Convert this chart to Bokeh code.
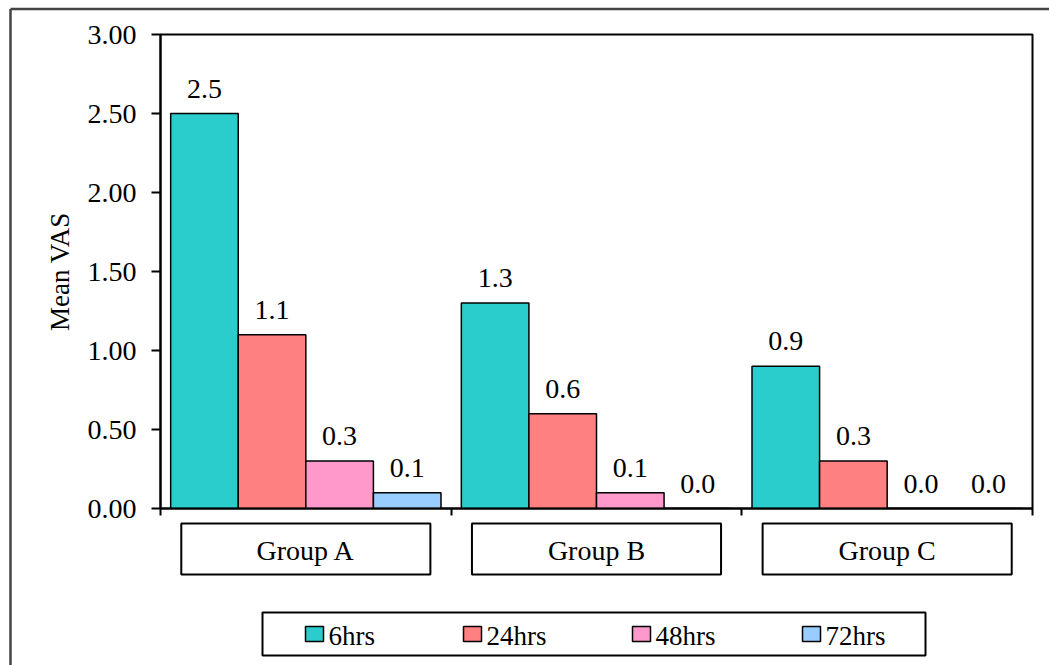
from bokeh.plotting import figure
from bokeh.models import Range1d, LinearAxis, FixedTicker, NumeralTickFormatter
from bokeh.core.properties import value
from bokeh.embed import file_html
from bokeh.resources import INLINE

# ---- data -------------------------------------------------------------
groups = ["Group A", "Group B", "Group C"]
series = ["6hrs", "24hrs", "48hrs", "72hrs"]
colors = ["#2ACCCC", "#FF8080", "#FF99CC", "#99CCFF"]
vas_6hrs = [2.5, 1.3, 0.9]
vas_24hrs = [1.1, 0.6, 0.3]
vas_48hrs = [0.3, 0.1, 0.0]
vas_72hrs = [0.1, 0.0, 0.0]
y_ticks = [0.0, 0.5, 1.0, 1.5, 2.0, 2.5, 3.0]

series_values = [vas_6hrs, vas_24hrs, vas_48hrs, vas_72hrs]

# ---- layout constants (pixels) ---------------------------------------
W, H = 1049, 665
FRAME_L, FRAME_R, FRAME_T, FRAME_B = 160, 1032, 34, 508
FONT_NAME = "Liberation Serif"
FONT = value(FONT_NAME)
FS = "28px"
BAR_W = 0.2325                      # width of one bar, in group units
LEGEND_SWATCH_X = [305, 463, 632, 802]  # left edge of each legend key

p = figure(width=W, height=H, output_backend="svg", toolbar_location=None,
           x_range=Range1d(0, len(groups)), y_range=Range1d(0, 3),
           x_axis_type=None, y_axis_type=None,
           min_border_left=FRAME_L, min_border_right=W - FRAME_R,
           min_border_top=FRAME_T, min_border_bottom=H - FRAME_B)
p.outline_line_color = "black"
p.outline_line_width = 2
p.background_fill_color = "white"
p.border_fill_color = "white"

# pixel ranges for decorations placed around the plotting frame
p.extra_x_ranges = {"px": Range1d(FRAME_L, FRAME_R)}
p.extra_y_ranges = {"px": Range1d(FRAME_B, FRAME_T)}

# ---- axes -------------------------------------------------------------
yax = LinearAxis(ticker=FixedTicker(ticks=y_ticks),
                 formatter=NumeralTickFormatter(format="0.00"),
                 axis_label="Mean VAS")
yax.axis_line_width = 2
yax.major_tick_in = 0
yax.major_tick_out = 9
yax.major_tick_line_width = 2
yax.minor_tick_line_color = None
yax.major_label_standoff = 15
yax.major_label_text_font = FONT_NAME
yax.major_label_text_font_size = FS
yax.major_label_text_color = "black"
yax.axis_label_text_font = FONT_NAME
yax.axis_label_text_font_size = "27px"
yax.axis_label_text_font_style = "normal"
yax.axis_label_text_color = "black"
yax.axis_label_standoff = 10
p.add_layout(yax, "left")

xax = LinearAxis(ticker=FixedTicker(ticks=list(range(len(groups) + 1))),
                 major_label_overrides={i: "" for i in range(len(groups) + 1)})
xax.axis_line_width = 2
xax.major_tick_in = 0
xax.major_tick_out = 7
xax.major_tick_line_width = 2
xax.minor_tick_line_color = None
xax.major_label_text_font_size = "1px"
p.add_layout(xax, "below")

# ---- bars and value labels -------------------------------------------
for k, (name, vals, col) in enumerate(zip(series, series_values, colors)):
    xs = [i + 0.5 + (k - 1.5) * BAR_W for i in range(len(groups))]
    p.vbar(x=xs, top=vals, width=BAR_W, bottom=0,
           fill_color=col, line_color="black", line_width=1.5)
    p.text(x=xs, y=vals, text=[f"{v:.1f}" for v in vals],
           text_align="center", text_baseline="bottom", y_offset=-16,
           text_font=FONT, text_font_size=FS, text_color="black")

# ---- group label boxes under the axis ----------------------------------
centers = [i + 0.5 for i in range(len(groups))]
p.rect(x=centers, y=548.5, width=0.857, height=51, y_range_name="px",
       fill_color="white", line_color="black", line_width=2, level="overlay")
p.text(x=centers, y=[550] * len(groups), text=groups, y_range_name="px",
       text_align="center", text_baseline="middle",
       text_font=FONT, text_font_size=FS, text_color="black", level="overlay")

# ---- legend (frame, colour keys and names) ------------------------------
p.rect(x=(262 + 925) / 2, y=633.5, width=663, height=43,
       x_range_name="px", y_range_name="px",
       fill_color="white", line_color="black", line_width=2, level="overlay")
p.rect(x=[sx + 9 for sx in LEGEND_SWATCH_X], y=633.5, width=18, height=15,
       x_range_name="px", y_range_name="px",
       fill_color=colors, line_color="black", line_width=1.5, level="overlay")
p.text(x=[sx + 23 for sx in LEGEND_SWATCH_X], y=[635] * len(series),
       text=series, x_range_name="px", y_range_name="px",
       text_align="left", text_baseline="middle",
       text_font=FONT, text_font_size="27px", text_color="black",
       level="overlay")

# ---- outer chart frame ---------------------------------------------------
p.multi_line(xs=[[10, 10], [10, 1200]], ys=[[900, 8.5], [8.5, 8.5]],
             x_range_name="px", y_range_name="px",
             line_color="#444444", line_width=2.5, level="overlay")

open("out.html", "w").write(file_html(p, INLINE))
